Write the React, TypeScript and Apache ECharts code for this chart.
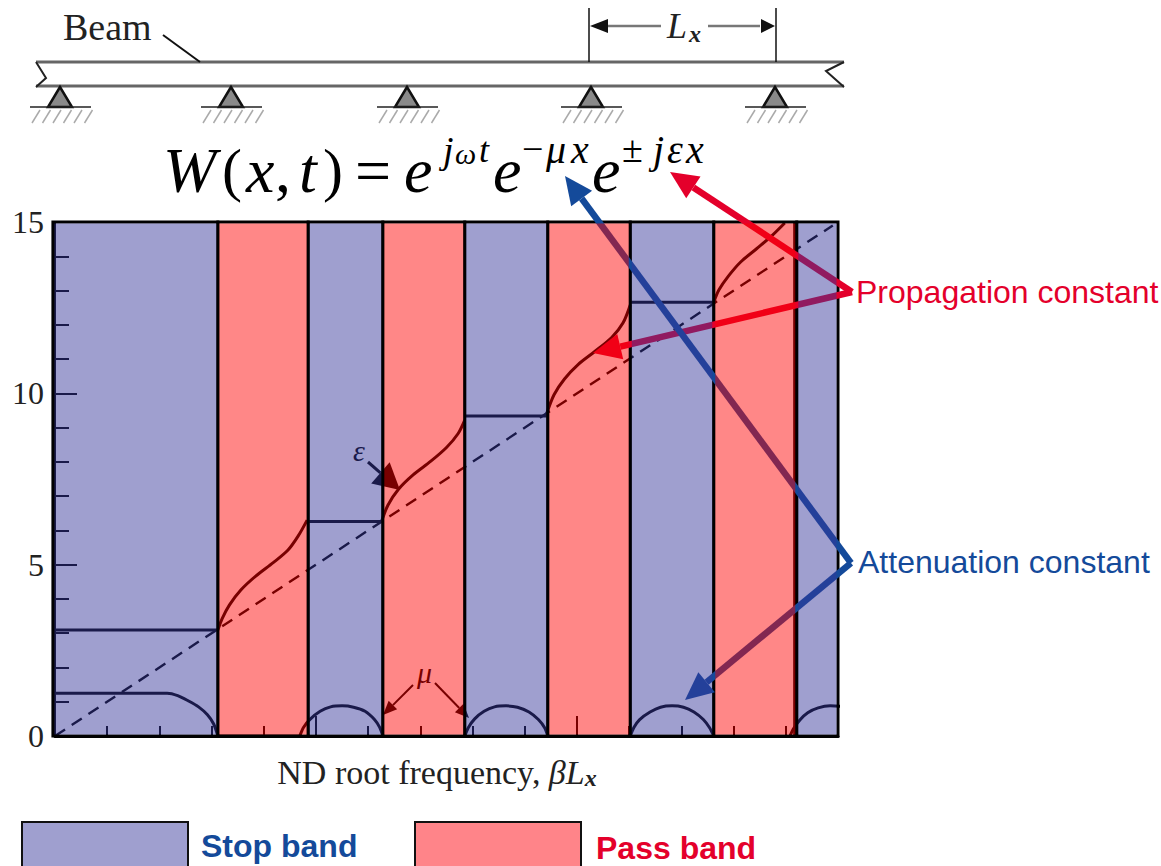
import React, { useEffect, useRef } from "react";
import * as echarts from "echarts";

const bandStarts = [-0.04, 3.12, 4.85, 6.28, 7.85, 9.44, 11.02, 12.62, 14.21];
const bandEnds = [3.12, 4.85, 6.28, 7.85, 9.44, 11.02, 12.62, 14.21, 15];
const bandKinds = [0, 1, 0, 1, 0, 1, 0, 1, 0];
const yTicks = { min: 0, max: 15, interval: 5 };
const xTicks = { min: 0, max: 15, interval: 5 };
const edgeLine = [[14.17, 0], [14.17, 15]];
const diagonal = [[0, 0], [14.9, 14.9]];
const epsilon1 = [[3.12, 3.09], [3.2, 3.42], [3.34, 3.82], [3.56, 4.26], [3.84, 4.66], [4.18, 5.06], [4.46, 5.42], [4.66, 5.84], [4.83, 6.3]];
const epsilon2 = [[6.26, 6.28], [6.38, 6.74], [6.58, 7.2], [6.86, 7.62], [7.2, 8.02], [7.5, 8.42], [7.72, 8.82], [7.85, 9.22]];
const epsilon3 = [[9.41, 9.37], [9.56, 9.96], [9.76, 10.42], [10.02, 10.84], [10.34, 11.22], [10.66, 11.62], [10.88, 12.05], [11.02, 12.58]];
const epsilon4 = [[12.62, 12.66], [12.72, 13.02], [12.9, 13.42], [13.14, 13.84], [13.44, 14.22], [13.72, 14.58], [13.98, 14.97]];
const stopLevels = [
  [[0, 3.09], [3.12, 3.09]],
  [[4.85, 6.26], [6.28, 6.26]],
  [[7.85, 9.34], [9.42, 9.34]],
  [[11.02, 12.66], [12.62, 12.66]],
];
const mu0 = [[0, 1.25], [2.15, 1.25], [2.35, 1.18], [2.55, 1.03], [2.75, 0.85], [2.92, 0.62], [3.04, 0.35], [3.12, 0]];
const zeroPass = [[3.12, 0], [4.69, 0]];
const mu1 = [[4.69, 0], [4.76, 0.25], [4.88, 0.48], [5.08, 0.72], [5.28, 0.85], [5.5, 0.88], [5.72, 0.84], [5.94, 0.72], [6.12, 0.48], [6.22, 0.25], [6.28, 0]];
const mu2 = [[7.85, 0], [7.92, 0.25], [8.04, 0.5], [8.22, 0.72], [8.42, 0.85], [8.64, 0.88], [8.86, 0.84], [9.08, 0.7], [9.26, 0.48], [9.38, 0.24], [9.44, 0]];
const mu3 = [[11.02, 0], [11.09, 0.25], [11.2, 0.48], [11.4, 0.7], [11.6, 0.84], [11.82, 0.88], [12.04, 0.84], [12.24, 0.7], [12.42, 0.48], [12.54, 0.24], [12.62, 0]];
const mu4 = [[14.08, 0], [14.15, 0.22], [14.27, 0.47], [14.42, 0.68], [14.62, 0.82], [14.85, 0.88], [15.19, 0.85]];
const supportXs = [60, 231, 407, 591, 775];

const STOP = "rgba(55,55,155,0.48)";
const PASS = "rgba(255,0,0,0.47)";
const RED = "#E4002B";
const BLUE = "#144A9A";
const SERIF = '"Liberation Serif"';
const SANS = '"Liberation Sans"';

function arrow(x1: number, y1: number, x2: number, y2: number, color: string, w: number, hl: number, hw: number, z = 3) {
  const d = Math.hypot(x2 - x1, y2 - y1);
  const ux = (x2 - x1) / d;
  const uy = (y2 - y1) / d;
  const bx = x2 - ux * hl;
  const by = y2 - uy * hl;
  return [
    { type: "line", z, silent: true, shape: { x1, y1, x2: bx, y2: by }, style: { stroke: color, lineWidth: w } },
    {
      type: "polygon", z, silent: true,
      shape: { points: [[x2, y2], [bx - uy * hw / 2, by + ux * hw / 2], [bx + uy * hw / 2, by - ux * hw / 2]] },
      style: { fill: color },
    },
  ];
}

function txt(text: string, x: number, y: number, font: string, fill = "#000", z = 6) {
  return { type: "text", z, silent: true, style: { text, x, y, font, fill, align: "left", verticalAlign: "middle" } };
}

function beamElements() {
  const out: any[] = [];
  const ln = (x1: number, y1: number, x2: number, y2: number, stroke: string, lineWidth: number) =>
    out.push({ type: "line", z: 5, silent: true, shape: { x1, y1, x2, y2 }, style: { stroke, lineWidth } });
  ln(36, 62, 844, 62, "#666", 3);
  ln(36, 86, 844, 86, "#666", 3);
  out.push({ type: "polyline", z: 5, silent: true, shape: { points: [[36, 62], [46, 78], [36, 87]] }, style: { stroke: "#222", lineWidth: 2, fill: "none" } });
  out.push({ type: "polyline", z: 5, silent: true, shape: { points: [[844, 62], [826, 71], [844, 87]] }, style: { stroke: "#222", lineWidth: 2, fill: "none" } });
  ln(163, 35, 200, 62, "#111", 2);
  ln(589, 8, 589, 62, "#111", 1.5);
  ln(776, 8, 776, 62, "#111", 1.5);
  ln(606, 26, 661, 26, "#777", 2.5);
  ln(708, 26, 760, 26, "#777", 2.5);
  out.push({ type: "polygon", z: 5, silent: true, shape: { points: [[590, 26], [608, 19], [608, 33]] }, style: { fill: "#111" } });
  out.push({ type: "polygon", z: 5, silent: true, shape: { points: [[775, 26], [761, 19], [761, 33]] }, style: { fill: "#111" } });
  supportXs.forEach((cx) => {
    out.push({
      type: "polygon", z: 5, silent: true,
      shape: { points: [[cx, 87], [cx - 12, 107], [cx + 12, 107]] },
      style: { fill: "#8a8a8a", stroke: "#111", lineWidth: 2.5 },
    });
    ln(cx - 30, 107, cx + 31, 107, "#222", 1.5);
    for (let i = 0; i < 6; i++) {
      const x = cx - 28 + i * 10.5;
      ln(x, 123, x + 8, 110, "#aaa", 1.5);
    }
  });
  return out;
}

function App() {
  const ref = useRef<HTMLDivElement>(null);
  useEffect(() => {
    document.body.style.margin = "0";
    const chart = echarts.init(ref.current!, undefined, { renderer: "svg" });
    const lineSeries = (data: number[][], smooth = true, extra: any = {}) => ({
      type: "line", data, z: 2, smooth: smooth ? 0.3 : false,
      symbol: "none", clip: false, silent: true,
      lineStyle: { color: "#000", width: 3, ...extra },
    });
    const bandData = bandStarts.map((s, i) => [s, bandEnds[i], bandKinds[i]]);
    const graphics: any[] = [
      ...beamElements(),
      txt("Beam", 63, 27, `38px ${SERIF}`, "#222"),
      txt("L", 667, 26, `italic 36px ${SERIF}`, "#222"),
      txt("x", 689, 34, `italic bold 24px ${SERIF}`, "#222"),
      txt("W", 163, 170, `italic 64px ${SERIF}`),
      txt("(", 222, 170, `60px ${SERIF}`),
      txt("x", 246, 170, `italic 64px ${SERIF}`),
      txt(",", 275, 170, `64px ${SERIF}`),
      txt("t", 299, 170, `italic 64px ${SERIF}`),
      txt(")", 323, 170, `60px ${SERIF}`),
      txt("=", 355, 170, `64px ${SERIF}`),
      txt("e", 404, 170, `italic 64px ${SERIF}`),
      txt("j", 443, 150, `italic 38px ${SERIF}`),
      txt("ω", 455, 153, `italic 30px ${SERIF}`),
      txt("t", 479, 150, `italic 36px ${SERIF}`),
      txt("e", 493, 170, `italic 64px ${SERIF}`),
      txt("−", 522, 149, `38px ${SERIF}`),
      txt("μ", 546, 149, `italic 40px ${SERIF}`),
      txt("x", 571, 149, `italic 40px ${SERIF}`),
      txt("e", 592, 170, `italic 64px ${SERIF}`),
      txt("±", 622, 149, `38px ${SERIF}`),
      txt("j", 653, 149, `italic 40px ${SERIF}`),
      txt("ε", 667, 149, `italic 40px ${SERIF}`),
      txt("x", 686, 149, `italic 40px ${SERIF}`),
      ...arrow(852, 292, 670, 172, RED, 6.5, 28, 26),
      ...arrow(852, 292, 593, 353, RED, 6.5, 28, 26),
      ...arrow(851, 563, 565, 176, BLUE, 6.5, 28, 26),
      ...arrow(851, 563, 685, 700, BLUE, 6.5, 28, 26),
      ...arrow(413, 685, 383, 715, "#000", 2, 14, 12),
      ...arrow(435, 683, 469, 718, "#000", 2, 14, 12),
      ...arrow(368, 462, 400, 490, "#000", 3, 26, 28),
      txt("μ", 417, 672, `italic 30px ${SERIF}`, "#000", 3),
      txt("ε", 353, 450, `italic 30px ${SERIF}`, "#000", 3),
      txt("Propagation constant", 856, 292, `32px ${SANS}`, RED),
      txt("Attenuation constant", 858, 562, `32px ${SANS}`, BLUE),
      { type: "rect", z: 6, silent: true, shape: { x: 22, y: 822, width: 166, height: 60 }, style: { fill: "#9F9FCF", stroke: "#111", lineWidth: 2 } },
      { type: "rect", z: 6, silent: true, shape: { x: 415, y: 822, width: 166, height: 60 }, style: { fill: "#FF8489", stroke: "#111", lineWidth: 2 } },
      txt("Stop band", 201, 846, `bold 32px ${SANS}`, BLUE),
      txt("Pass band", 596, 848, `bold 32px ${SANS}`, RED),
    ];
    const option: any = {
      animation: false,
      backgroundColor: "#fff",
      grid: { left: 55, top: 222, width: 783, height: 514, containLabel: false },
      tooltip: { show: false },
      xAxis: {
        type: "value", ...xTicks,
        splitLine: { show: false },
        axisLine: { show: true, onZero: false, lineStyle: { color: "#000", width: 3 } },
        axisTick: { show: true, inside: true, length: 20, lineStyle: { color: "#000", width: 2 } },
        minorTick: { show: true, splitNumber: 5, length: 10, lineStyle: { color: "#000", width: 2 } },
        axisLabel: { show: false },
        name: "{a|ND root frequency, }{b|βL}{c|x}",
        nameLocation: "middle",
        nameGap: 18,
        nameTextStyle: {
          padding: [0, 19, 0, 0],
          rich: {
            a: { fontFamily: SERIF, fontSize: 34, color: "#222" },
            b: { fontFamily: SERIF, fontSize: 34, fontStyle: "italic", color: "#222" },
            c: { fontFamily: SERIF, fontSize: 24, fontStyle: "italic", fontWeight: "bold", color: "#222", padding: [12, 0, 0, 0] },
          },
        },
      },
      yAxis: {
        type: "value", ...yTicks,
        splitLine: { show: false },
        axisLine: { show: true, onZero: false, lineStyle: { color: "#000", width: 2 } },
        axisTick: { show: true, inside: true, length: 22, lineStyle: { color: "#000", width: 2 } },
        minorTick: { show: true, splitNumber: 5, length: 14, lineStyle: { color: "#000", width: 2 } },
        axisLabel: { show: true, margin: 11, fontFamily: SERIF, fontSize: 32, color: "#222" },
      },
      graphic: { elements: graphics },
      series: [
        {
          type: "custom", z: 2, silent: true, clip: false, data: bandData,
          encode: { x: [0, 1] },
          renderItem: (_: any, api: any) => {
            const a = api.coord([api.value(0), 15]);
            const b = api.coord([api.value(1), 0]);
            return {
              type: "rect",
              shape: { x: a[0], y: a[1], width: b[0] - a[0], height: b[1] - a[1] },
              style: { fill: "none", stroke: "#000", lineWidth: 3 },
            };
          },
        },
        lineSeries(edgeLine, false),
        lineSeries(diagonal, false, { type: [12, 8], width: 2.4 }),
        ...[epsilon1, epsilon2, epsilon3, epsilon4].map((d) => lineSeries(d)),
        ...stopLevels.map((d) => lineSeries(d, false)),
        ...[mu0, mu1, mu2, mu3, mu4].map((d) => lineSeries(d)),
        lineSeries(zeroPass, false),
        {
          type: "custom", z: 4, silent: true, clip: false, data: bandData,
          encode: { x: [0, 1] },
          renderItem: (_: any, api: any) => {
            const a = api.coord([api.value(0), 15]);
            const b = api.coord([api.value(1), 0]);
            return {
              type: "rect",
              shape: { x: a[0] + 1.5, y: a[1] + 1.5, width: b[0] - a[0] - 3, height: b[1] - a[1] - 3 },
              style: { fill: api.value(2) ? PASS : STOP },
            };
          },
        },
      ],
    };
    chart.setOption(option);
    return () => chart.dispose();
  }, []);
  return <div ref={ref} style={{ width: 1161, height: 866 }} />;
}

export default App;
